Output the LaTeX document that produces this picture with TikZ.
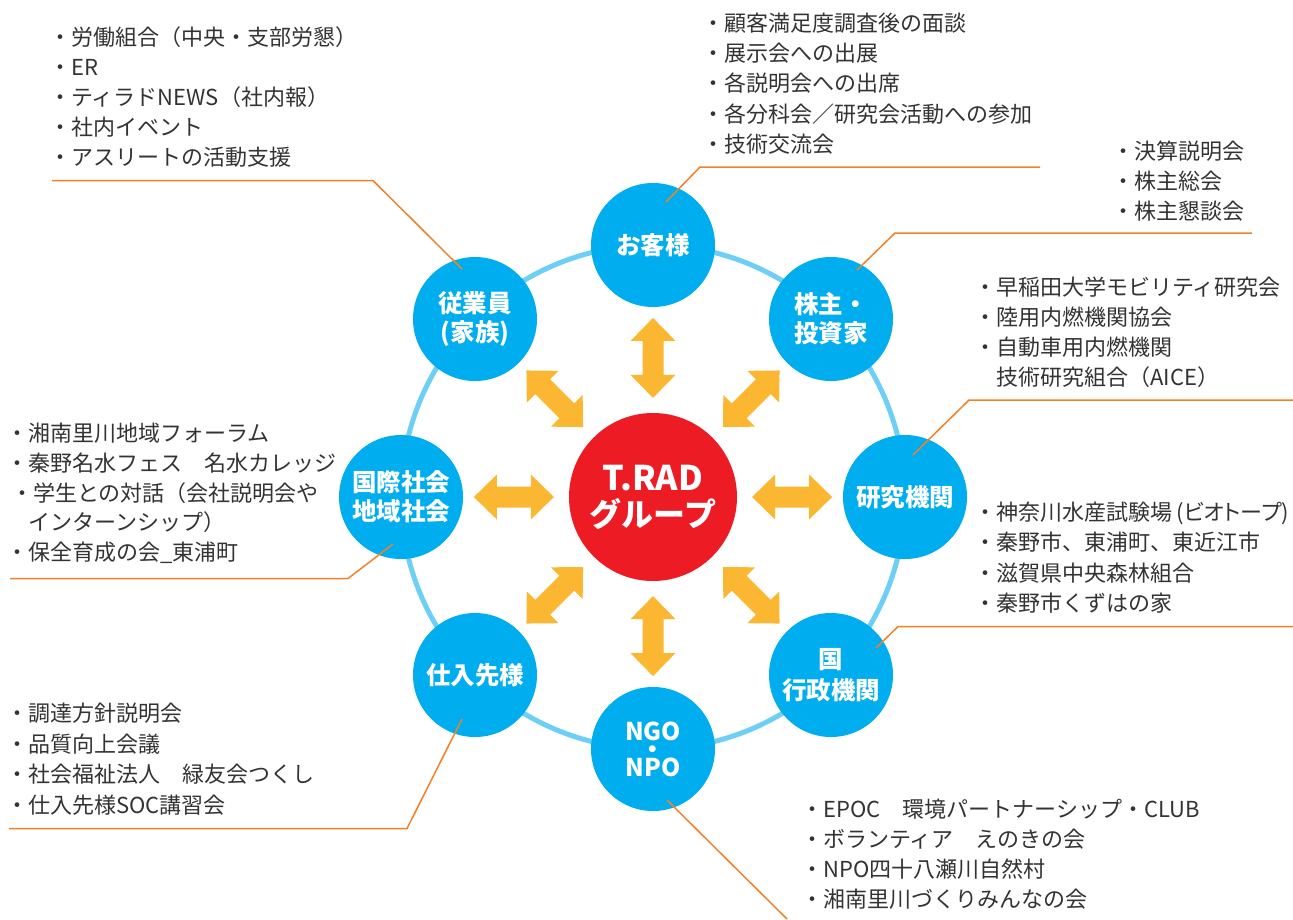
\documentclass[tikz,border=0pt]{standalone}
\usepackage{fontspec}
\setmainfont{Noto Sans CJK JP}
\usetikzlibrary{calc}
\definecolor{ringc}{RGB}{109,207,246}
\definecolor{nodec}{RGB}{0,173,239}
\definecolor{redc}{RGB}{237,28,36}
\definecolor{arrowc}{RGB}{251,183,49}
\definecolor{leadc}{RGB}{244,128,38}
\definecolor{textc}{RGB}{51,51,51}
\tikzset{
  party/.style={circle,fill=nodec,minimum size=124pt,inner sep=0pt,text=white,align=center,
    font=\bfseries\fontsize{24.5}{29}\selectfont},
  core/.style={circle,fill=redc,minimum size=168pt,inner sep=0pt,text=white,align=center,
    font=\bfseries\fontsize{32}{36}\selectfont},
  item/.style={anchor=west,inner sep=0pt,text=textc,text height=19.4pt,text depth=2.6pt,
    font=\fontsize{22}{26}\selectfont},
  lead/.style={draw=leadc,line width=1.5pt},
  ring/.style={draw=ringc,line width=5pt},
  dbl/.style={fill=arrowc}
}
\newcommand\itemlist[5]{% name, x, y0, step, items
  \foreach \t [count=\i from 1] in {#5} {\node[item] (#1-\i) at (#2,{#3+(\i-1)*#4}) {\t};}}
\newcommand\dblarrow[2]{% coordinate, rotation
  \fill[dbl,shift={(#1)},rotate=#2] (-40,0) -- (-17,-22.5) -- (-17,-10.5) -- (17,-10.5) -- (17,-22.5)
   -- (40,0) -- (17,22.5) -- (17,10.5) -- (-17,10.5) -- (-17,22.5) -- cycle;}
\begin{document}
\begin{tikzpicture}[x=1pt,y=-1pt]
\useasboundingbox (0,0) rectangle (1293,919);
% ring
\draw[ring] (653,497) circle[radius=252];
% central node
\node[core] (trad) at (653,497) {{\fontsize{34}{36}\selectfont T.RAD}\\グループ};
% stakeholder nodes
\node[party] (cust)  at (653,245) {お客様};
\node[party] (share) at (831,319) {株主・\\投資家};
\node[party] (res)   at (905,497) {研究機関};
\node[party] (gov)   at (831,675) {国\\[2pt]行政機関};
\node[party] (ngo)   at (653,749) {NGO\\[-11pt]・\\[-11pt]NPO};
\node[party] (supp)  at (475,675) {仕入先様};
\node[party] (loc)   at (401,497) {国際社会\\地域社会};
\node[party] (emp)   at (475,319) {従業員\\(家族)};
% double arrows
\foreach \n/\r in {cust/90,share/45,res/0,gov/-45,ngo/90,supp/45,loc/0,emp/-45}{
  \path ($(trad)!0.552!(\n)$) coordinate (arr-\n);
  \dblarrow{arr-\n}{\r}
}
% leader lines
\coordinate (empE) at (462,269); \coordinate (empC) at (373,180.5); \coordinate (empL) at (52,180.5);
\coordinate (custE) at (666,202); \coordinate (custC) at (700,167); \coordinate (custL) at (1040,167);
\coordinate (shareE) at (857,270); \coordinate (shareC) at (895,233); \coordinate (shareL) at (1252,233);
\coordinate (resE) at (913,455); \coordinate (resC) at (969,400); \coordinate (resL) at (1293,400);
\coordinate (govE) at (876,648); \coordinate (govC) at (898,626.5); \coordinate (govL) at (1293,626.5);
\coordinate (ngoE) at (667,800); \coordinate (ngoL) at (787,919);
\coordinate (suppE) at (462,719); \coordinate (suppC) at (407,828.5); \coordinate (suppL) at (9,828.5);
\coordinate (locE) at (393,544); \coordinate (locC) at (348,578.5); \coordinate (locL) at (10,578.5);
\draw[lead] (empE) -- (empC) -- (empL);
\draw[lead] (custE) -- (custC) -- (custL);
\draw[lead] (shareE) -- (shareC) -- (shareL);
\draw[lead] (resE) -- (resC) -- (resL);
\draw[lead] (govE) -- (govC) -- (govL);
\draw[lead] (ngoE) -- (ngoL);
\draw[lead] (suppE) -- (suppC) -- (suppL);
\draw[lead] (locE) -- (locC) -- (locL);
% lists
\itemlist{le}{49}{37.5}{29.9}{{・労働組合（中央・支部労懇）},{・ER},{・ティラドNEWS（社内報）},{・社内イベント},{・アスリートの活動支援}}
\itemlist{lc}{702}{23}{30.2}{{・顧客満足度調査後の面談},{・展示会への出展},{・各説明会への出席},{・各分科会／研究会活動への参加},{・技術交流会}}
\itemlist{ls}{1112}{151}{29.8}{{・決算説明会},{・株主総会},{・株主懇談会}}
\itemlist{lr}{974}{287}{30}{{・早稲田大学モビリティ研究会},{・陸用内燃機関協会},{・自動車用内燃機関},{\phantom{・}技術研究組合（AICE）}}
\itemlist{lg}{974}{512}{30.3}{{・神奈川水産試験場\hspace{4pt}{\addfontfeatures{RawFeature=+palt}(ビオトープ)}},{・秦野市、東浦町、東近江市},{・滋賀県中央森林組合},{・秦野市くずはの家}}
\node[item] (ll-1) at (6,433) {・湘南里川地域フォーラム};
\node[item] (ll-2) at (6,463) {・秦野名水フェス　名水カレッジ};
\node[item] (ll-3) at (11,493) {・学生との対話（会社説明会や};
\node[item] (ll-4) at (28,522.5) {インターンシップ）};
\node[item] (ll-5) at (6,552.5) {・保全育成の会\_東浦町};
\itemlist{lp}{6}{713}{30.7}{{・調達方針説明会},{・品質向上会議},{・社会福祉法人　緑友会つくし},{・仕入先様SOC講習会}}
\itemlist{ln}{801}{809}{30}{{・EPOC　環境パートナーシップ・CLUB},{・ボランティア　えのきの会},{・NPO四十八瀬川自然村},{・湘南里川づくりみんなの会}}
\end{tikzpicture}
\end{document}
